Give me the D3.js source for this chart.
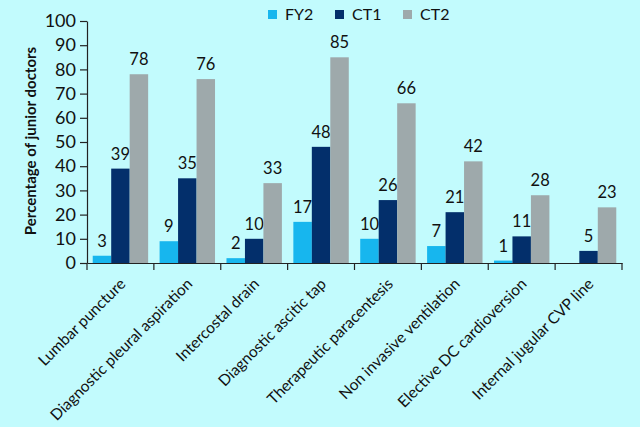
<!DOCTYPE html>
<html><head><meta charset="utf-8">
<script src="https://cdn.jsdelivr.net/npm/d3@7"></script>
<style>
html,body{margin:0;padding:0;background:#c2fbfd;}
svg{display:block;font-family:Lato,"Open Sans",sans-serif;}
</style></head>
<body><svg id="c" width="640" height="427"></svg>
<script>
const categories = ["Lumbar puncture","Diagnostic pleural aspiration","Intercostal drain","Diagnostic ascitic tap","Therapeutic paracentesis","Non invasive ventilation","Elective DC cardioversion","Internal jugular CVP line"];
const seriesNames = ["FY2","CT1","CT2"];
const fy2 = [3,9,2,17,10,7,1,null];
const ct1 = [39,35,10,48,26,21,11,5];
const ct2 = [78,76,33,85,66,42,28,23];
const yTicks = [0,10,20,30,40,50,60,70,80,90,100];
const colors = ["#17b6ee","#032f6b","#9ea9ab"];

(function(){
const values = [fy2, ct1, ct2];
const svg = d3.select("#c");
svg.append("rect").attr("width",640).attr("height",427).attr("fill","#c2fbfd");

const mL = 87, mR = 622, mT = 21, mB = 263;
const x = d3.scaleBand().domain(categories).range([mL,mR]).paddingInner(0).paddingOuter(0);
const x1 = d3.scaleBand().domain(seriesNames).range([0,x.bandwidth()]).paddingInner(0).paddingOuter(0.31);
const y = d3.scaleLinear().domain([0,100]).range([mB,mT]);

// bars
seriesNames.forEach((s,si)=>{
  const g = svg.append("g");
  categories.forEach((c,ci)=>{
    const v = values[si][ci];
    if (v == null) return;
    g.append("rect")
      .attr("x", x(c)+x1(s)).attr("width", x1.bandwidth())
      .attr("y", y(v)).attr("height", y(0)-y(v))
      .attr("fill", colors[si]);
    g.append("text")
      .attr("x", x(c)+x1(s)+x1.bandwidth()/2)
      .attr("y", y(v)-9)
      .attr("text-anchor","middle")
      .attr("font-size",16.5).attr("fill","#111")
      .text(v);
  });
});

// y axis
const ya = svg.append("g").attr("transform",`translate(${mL},0)`)
  .call(d3.axisLeft(y).tickValues(yTicks).tickSize(7).tickSizeOuter(0).tickPadding(4));
ya.selectAll("text").attr("font-size",18).attr("fill","#111").attr("font-family","Lato,'Open Sans',sans-serif");
ya.selectAll("line,path").attr("stroke","#222").attr("stroke-width",1.2);

// x axis
const xa = svg.append("g").attr("transform",`translate(0,${mB})`)
  .call(d3.axisBottom(x).tickSize(0).tickFormat(""));
xa.select("path").attr("stroke","#222").attr("stroke-width",1.2);
const edges = categories.map(c=>x(c)).concat([x(categories[categories.length-1])+x.bandwidth()]);
xa.selectAll("line.edge").data(edges).enter().append("line").attr("class","edge")
  .attr("x1",d=>d).attr("x2",d=>d).attr("y1",0).attr("y2",7)
  .attr("stroke","#222").attr("stroke-width",1.2);

// x labels
svg.append("g").selectAll("text").data(categories).enter().append("text")
  .attr("transform", d=>`translate(${x(d)+x.bandwidth()/2+6},285) rotate(-45)`)
  .attr("text-anchor","end")
  .attr("font-size",15.5).attr("fill","#111")
  .text(d=>d);

// y title
svg.append("text")
  .attr("transform","translate(36,141) rotate(-90)")
  .attr("text-anchor","middle")
  .attr("font-size",15).attr("font-weight","bold").attr("fill","#111")
  .text("Percentage of junior doctors");

// legend
const legX = [268, 335, 403];
seriesNames.forEach((s,i)=>{
  svg.append("rect").attr("x",legX[i]).attr("y",10).attr("width",9).attr("height",9).attr("fill",colors[i]);
  svg.append("text").attr("x",legX[i]+17).attr("y",20).attr("font-size",16).attr("fill","#111").text(s);
});
})();
</script></body></html>
